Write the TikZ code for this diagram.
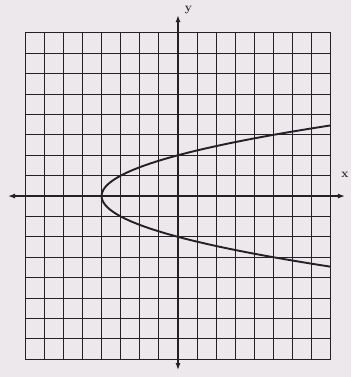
\documentclass[tikz,border=0pt]{standalone}
\usetikzlibrary{arrows.meta}
\definecolor{paper}{RGB}{236,232,236}
\definecolor{ink}{RGB}{35,33,37}
\begin{document}
\begin{tikzpicture}[x=19.1pt,y=20.4pt,
  gridline/.style={draw=ink,line width=1pt},
  axisline/.style={draw=ink,line width=1.3pt,-{Latex[open,length=7pt,width=5pt]}},
  curve/.style={draw=ink,line width=1.9pt},
  lbl/.style={font=\large\bfseries,text=ink,inner sep=1pt}]
\fill[paper] (-9.32,-8.87) rectangle (9.06,9.61);
\useasboundingbox (-9.32,-8.87) rectangle (9.06,9.61);
\draw[gridline,step=1] (-8,-8) grid (8,8);
\coordinate (o) at (0,0);
\coordinate (xl) at (-8.9,0);
\coordinate (xr) at (8.74,0);
\coordinate (yt) at (0,8.87);
\coordinate (yb) at (0,-8.53);
\draw[axisline] (o) -- (xr);
\draw[axisline] (o) -- (xl);
\draw[axisline] (o) -- (yt);
\draw[axisline] (o) -- (yb);
\node[lbl] (ylab) at (0.55,9.1) {y};
\node[lbl] (xlab) at (8.74,1.05) {x};
\draw[curve] plot[domain=-3.4641:3.4641,samples=80,smooth] ({\x*\x-4},{\x});
\end{tikzpicture}
\end{document}
